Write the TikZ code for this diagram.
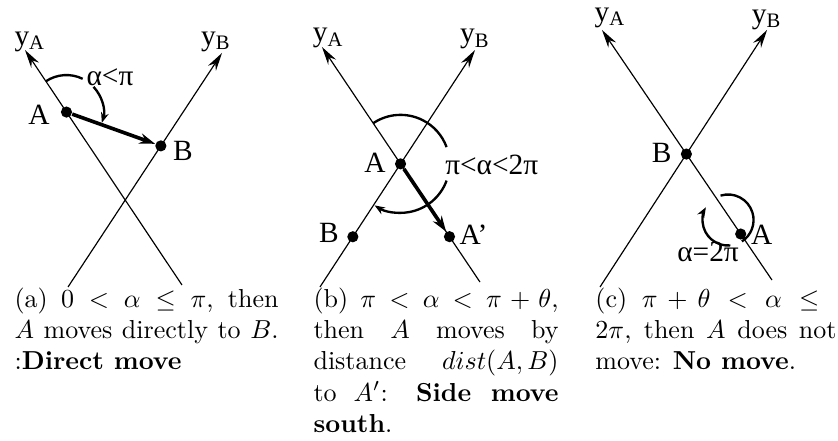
\documentclass[tikz,border=0pt]{standalone}
\usepackage{fontspec}
\usepackage{tikz}
\usetikzlibrary{
    arrows.meta,
    calc
}
\newfontfamily\labfont{Liberation Serif}
\tikzset{
    axis/.style={line width=0.45pt, -{Stealth[length=7pt,width=3.6pt]}},
    move/.style={line width=1.4pt, -{Stealth[length=6pt,width=4pt]}},
    turn/.style={line width=0.9pt},
    turnarrow/.style={line width=0.9pt, -{Stealth[length=4pt,width=3pt]}},
    dot/.style={circle, fill, inner sep=0pt, minimum size=4.3pt},
    lab/.style={font=\labfont\fontsize{11.3}{13}\selectfont, inner sep=0pt},
    subcap/.style={anchor=north west, inner sep=0pt, text width=#1, align=justify}
}

\begin{document}
\begin{tikzpicture}[x=1cm,y=1cm]
    \useasboundingbox (0,0) rectangle (11.324,5.946);
    % (a)
    \coordinate (aYAbot) at (2.459,2.095);
    \coordinate (aYAtop) at (0.338,5.270);
    \coordinate (aYBbot) at (0.919,2.068);
    \coordinate (aYBtop) at (3.000,5.230);
    \draw[axis] (aYAbot) -- (aYAtop);
    \draw[axis] (aYBbot) -- (aYBtop);
    \node[dot] (aA) at ($(aYAbot)!0.736!(aYAtop)$) {};
    \node[dot] (aB) at ($(aYBbot)!0.603!(aYBtop)$) {};
    \draw[move] (aA) -- (aB);
    \draw[turn] ($(aA)+(124:0.5)$) arc[start angle=124, end angle=64, radius=0.5];
    \draw[turnarrow] ($(aA)+(43:0.5)$) arc[start angle=43, end angle=-17, radius=0.5];
    \node[lab] (aYAlab) at (0.405,5.383) {y\textsubscript{A}};
    \node[lab] (aYBlab) at (2.919,5.383) {y\textsubscript{B}};
    \node[lab] (aAlab) at (0.527,4.392) {A};
    \node[lab] (aBlab) at (2.473,3.905) {B};
    \node[lab] (aAlpha) at (1.486,4.905) {α<π};
    \node[subcap=101.5pt] (aCap) at (0.19,2.061)
        {(a) $0<\alpha\le\pi$, then\linebreak $A$ moves directly to $B$.\linebreak :\textbf{Direct move}};
    % (b)
    \coordinate (bYAbot) at (6.486,2.135);
    \coordinate (bYAtop) at (4.351,5.311);
    \coordinate (bYBbot) at (4.324,2.068);
    \coordinate (bYBtop) at (6.419,5.270);
    \draw[axis] (bYAbot) -- (bYAtop);
    \draw[axis] (bYBbot) -- (bYBtop);
    \node[dot] (bA) at (intersection of bYAbot--bYAtop and bYBbot--bYBtop) {};
    \node[dot] (bB) at ($(bYBbot)!0.212!(bYBtop)$) {};
    \node[dot] (bA2) at ($(bYAbot)!0.193!(bYAtop)$) {};
    \draw[move] (bA) -- (bA2);
    \draw[turn] ($(bA)+(124:0.662)$) arc[start angle=124, end angle=20, radius=0.662];
    \draw[turnarrow] ($(bA)+(-20:0.662)$) arc[start angle=-20, end angle=-122, radius=0.662];
    \node[lab] (bYAlab) at (4.436,5.428) {y\textsubscript{A}};
    \node[lab] (bYBlab) at (6.419,5.415) {y\textsubscript{B}};
    \node[lab] (bAlab) at (5.068,3.743) {A};
    \node[lab] (bBlab) at (4.446,2.797) {B};
    \node[lab] (bA2lab) at (6.400,2.770) {A’};
    \node[lab] (bAlpha) at (6.645,3.716) {π<α<2π};
    \node[subcap=94.2pt] (bCap) at (4.23,2.061)
        {(b) $\pi<\alpha<\pi+\theta$,\linebreak then $A$ moves by\linebreak distance $dist(A,B)$\linebreak to $A'$: \textbf{Side move}\linebreak \textbf{south}.};
    % (c)
    \coordinate (cYAbot) at (10.432,2.162);
    \coordinate (cYAtop) at (8.135,5.541);
    \coordinate (cYBbot) at (8.108,2.068);
    \coordinate (cYBtop) at (10.365,5.541);
    \draw[axis] (cYAbot) -- (cYAtop);
    \draw[axis] (cYBbot) -- (cYBtop);
    \node[dot] (cB) at (intersection of cYAbot--cYAtop and cYBbot--cYBtop) {};
    \node[dot] (cA) at ($(cYAbot)!0.184!(cYAtop)$) {};
    \coordinate (cTurn) at (9.838,2.973);
    \draw[turn] ($(cTurn)+(107:0.345)$) arc[start angle=107, end angle=-57, radius=0.345];
    \draw[turnarrow] ($(cTurn)+(275:0.345)$) arc[start angle=275, end angle=150, radius=0.345];
    \node[lab] (cYAlab) at (8.243,5.703) {y\textsubscript{A}};
    \node[lab] (cYBlab) at (10.361,5.676) {y\textsubscript{B}};
    \node[lab] (cBlab) at (8.942,3.878) {B};
    \node[lab] (cAlab) at (10.293,2.770) {A};
    \node[lab] (cAlpha) at (9.568,2.541) {α=2π};
    \node[subcap=92.7pt] (cCap) at (8.04,2.061)
        {(c) $\pi+\theta<\alpha\le{}$\linebreak $2\pi$, then $A$ does not\linebreak move: \textbf{No move}.};
\end{tikzpicture}
\end{document}
